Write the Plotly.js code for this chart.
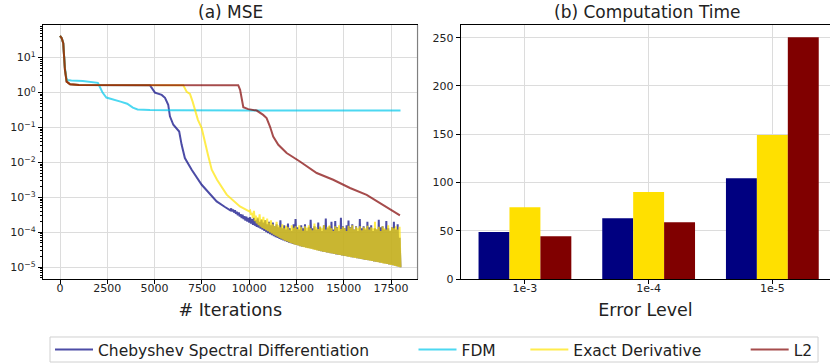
<!DOCTYPE html>
<html>
<head>
<meta charset="utf-8">
<script src="https://cdn.plot.ly/plotly-3.0.1.min.js"></script>
<style>html,body{margin:0;padding:0;background:#fff;}#chart{width:830px;height:364px;}</style>
</head>
<body>
<div id="chart"></div>
<script>
// ---------- (a) MSE data ----------
// Chebyshev: smooth part
const chebIter = [0, 90, 170, 260, 350, 530, 1000, 4750, 5020, 5200, 5375, 5550, 5720, 5810, 5990, 6300, 6430, 6600, 6960, 7490, 7750, 8280, 8700];
const chebMSE  = [42, 36, 26, 4.5, 2.06, 1.74, 1.65, 1.63, 1.0, 0.93, 0.86, 0.71, 0.45, 0.21, 0.12, 0.077, 0.032, 0.0134, 0.0062, 0.0023, 0.0016, 7.7e-4, 5.4e-4];
// Chebyshev: oscillating part, troughs and peaks
const chebLowIter = [9000, 9100, 9200, 9300, 9400, 9500, 9600, 9700, 9800, 9900, 10000, 10100, 10200, 10300, 10400, 10500, 10600, 10700, 10800, 10900,
  11000, 11100, 11200, 11300, 11400, 11500, 11600, 11700, 11800, 11900, 12000, 12100, 12200, 12300, 12400, 12500, 12600, 12700, 12800, 12900,
  13000, 13100, 13200, 13300, 13400, 13500, 13600, 13700, 13800, 13900, 14000, 14100, 14200, 14300, 14400, 14500, 14600, 14700, 14800, 14900,
  15000, 15100, 15200, 15300, 15400, 15500, 15600, 15700, 15800, 15900, 16000, 16100, 16200, 16300, 16400, 16500, 16600, 16700, 16800, 16900,
  17000, 17100, 17200, 17300, 17400, 17500, 17600, 17700, 17800, 17900, 18000];
const chebLow = [4.3e-4, 4.0e-4, 3.7e-4, 3.4e-4, 3.1e-4, 2.85e-4, 2.6e-4, 2.4e-4, 2.2e-4, 2.05e-4, 1.9e-4, 1.78e-4, 1.65e-4, 1.55e-4, 1.45e-4, 1.36e-4, 1.28e-4, 1.19e-4, 1.1e-4, 1.02e-4,
  9.5e-5, 8.9e-5, 8.4e-5, 7.8e-5, 7.3e-5, 6.9e-5, 6.5e-5, 6.2e-5, 5.9e-5, 5.6e-5, 5.3e-5, 5.1e-5, 4.9e-5, 4.7e-5, 4.5e-5, 4.35e-5, 4.2e-5, 4.05e-5, 3.9e-5, 3.8e-5,
  3.7e-5, 3.6e-5, 3.5e-5, 3.4e-5, 3.3e-5, 3.2e-5, 3.1e-5, 3.0e-5, 2.9e-5, 2.82e-5, 2.75e-5, 2.68e-5, 2.6e-5, 2.55e-5, 2.5e-5, 2.42e-5, 2.35e-5, 2.3e-5, 2.25e-5, 2.2e-5,
  2.15e-5, 2.1e-5, 2.05e-5, 2.0e-5, 1.95e-5, 1.91e-5, 1.87e-5, 1.82e-5, 1.78e-5, 1.74e-5, 1.7e-5, 1.66e-5, 1.63e-5, 1.6e-5, 1.56e-5, 1.52e-5, 1.48e-5, 1.45e-5, 1.42e-5, 1.38e-5,
  1.35e-5, 1.31e-5, 1.28e-5, 1.25e-5, 1.21e-5, 1.18e-5, 1.15e-5, 1.11e-5, 1.08e-5, 1.04e-5, 1.0e-5];
const chebHighIter = [9050, 9150, 9250, 9350, 9450, 9550, 9650, 9750, 9850, 9950, 10050, 10150, 10250, 10350, 10450, 10550, 10650, 10750, 10850, 10950,
  11050, 11150, 11250, 11350, 11450, 11550, 11650, 11750, 11850, 11950, 12050, 12150, 12250, 12350, 12450, 12550, 12650, 12750, 12850, 12950,
  13050, 13150, 13250, 13350, 13450, 13550, 13650, 13750, 13850, 13950, 14050, 14150, 14250, 14350, 14450, 14550, 14650, 14750, 14850, 14950,
  15050, 15150, 15250, 15350, 15450, 15550, 15650, 15750, 15850, 15950, 16050, 16150, 16250, 16350, 16450, 16550, 16650, 16750, 16850, 16950,
  17050, 17150, 17250, 17350, 17450, 17550, 17650, 17750, 17850, 17950];
const chebHigh = [4.8e-4, 4.5e-4, 4.3e-4, 3.9e-4, 3.7e-4, 3.3e-4, 3.2e-4, 2.9e-4, 2.8e-4, 2.6e-4, 2.7e-4, 2.4e-4, 2.6e-4, 2.2e-4, 2.5e-4, 2.0e-4, 2.3e-4, 1.9e-4, 2.2e-4, 1.7e-4,
  2.0e-4, 1.6e-4, 1.9e-4, 1.5e-4, 1.7e-4, 1.4e-4, 2.2e-4, 1.3e-4, 1.6e-4, 1.2e-4, 1.8e-4, 1.3e-4, 1.1e-4, 1.7e-4, 2.4e-4, 1.4e-4, 1.2e-4, 1.6e-4, 1.3e-4, 1.7e-4,
  1.1e-4, 1.4e-4, 2.3e-4, 1.3e-4, 1.5e-4, 1.2e-4, 1.9e-4, 1.4e-4, 1.1e-4, 1.6e-4, 2.5e-4, 1.3e-4, 1.5e-4, 2.0e-4, 1.2e-4, 2.1e-4, 1.4e-4, 1.1e-4, 2.6e-4, 1.5e-4,
  1.3e-4, 1.6e-4, 2.2e-4, 1.4e-4, 1.7e-4, 1.2e-4, 1.5e-4, 1.1e-4, 2.4e-4, 1.3e-4, 1.5e-4, 1.2e-4, 2.0e-4, 1.4e-4, 1.6e-4, 1.1e-4, 1.3e-4, 1.2e-4, 2.3e-4, 1.4e-4,
  1.5e-4, 1.2e-4, 2.1e-4, 1.3e-4, 1.1e-4, 1.4e-4, 2.0e-4, 1.2e-4, 1.7e-4, 7.0e-5];

// FDM
const fdmIter = [0, 90, 170, 260, 354, 600, 1200, 1900, 2000, 2120, 2250, 2450, 2800, 3200, 3550, 3850, 4100, 4750, 6000, 10000, 18000];
const fdmMSE  = [42, 36, 26, 5.0, 2.3, 2.22, 2.15, 2.0, 1.9, 1.4, 1.0, 0.72, 0.62, 0.55, 0.48, 0.37, 0.33, 0.315, 0.31, 0.306, 0.305];

// Exact derivative: smooth part
const exactIter = [0, 90, 170, 260, 350, 530, 1000, 6516, 6700, 6870, 7010, 7135, 7290, 7490, 7660, 7820, 8020, 8300, 8810, 9510, 10000];
const exactMSE  = [42, 36, 26, 4.5, 2.06, 1.74, 1.65, 1.63, 1.05, 0.92, 0.55, 0.32, 0.166, 0.096, 0.036, 0.0166, 0.0062, 0.0032, 0.0012, 5.5e-4, 4.0e-4];
// Exact derivative: oscillating part
const exactLowIter = [10100, 10200, 10300, 10400, 10500, 10600, 10700, 10800, 10900, 11000, 11100, 11200, 11300, 11400, 11500, 11600, 11700, 11800, 11900, 12000,
  12100, 12200, 12300, 12400, 12500, 12600, 12700, 12800, 12900, 13000, 13100, 13200, 13300, 13400, 13500, 13600, 13700, 13800, 13900, 14000,
  14100, 14200, 14300, 14400, 14500, 14600, 14700, 14800, 14900, 15000, 15100, 15200, 15300, 15400, 15500, 15600, 15700, 15800, 15900, 16000,
  16100, 16200, 16300, 16400, 16500, 16600, 16700, 16800, 16900, 17000, 17100, 17200, 17300, 17400, 17500, 17600, 17700, 17800, 17900, 18000];
const exactLow = [3.2e-4, 2.6e-4, 2.1e-4, 1.8e-4, 1.6e-4, 1.45e-4, 1.35e-4, 1.25e-4, 1.16e-4, 1.08e-4, 1.0e-4, 9.3e-5, 8.6e-5, 8.0e-5, 7.5e-5, 7.0e-5, 6.6e-5, 6.2e-5, 5.8e-5, 5.5e-5,
  5.2e-5, 5.0e-5, 4.75e-5, 4.55e-5, 4.35e-5, 4.2e-5, 4.05e-5, 3.9e-5, 3.78e-5, 3.65e-5, 3.55e-5, 3.45e-5, 3.35e-5, 3.25e-5, 3.15e-5, 3.05e-5, 2.97e-5, 2.9e-5, 2.82e-5, 2.75e-5,
  2.67e-5, 2.6e-5, 2.54e-5, 2.48e-5, 2.42e-5, 2.36e-5, 2.3e-5, 2.25e-5, 2.19e-5, 2.14e-5, 2.09e-5, 2.04e-5, 1.99e-5, 1.95e-5, 1.9e-5, 1.86e-5, 1.82e-5, 1.78e-5, 1.74e-5, 1.7e-5,
  1.66e-5, 1.62e-5, 1.59e-5, 1.55e-5, 1.51e-5, 1.48e-5, 1.44e-5, 1.41e-5, 1.37e-5, 1.34e-5, 1.3e-5, 1.27e-5, 1.24e-5, 1.2e-5, 1.17e-5, 1.14e-5, 1.1e-5, 1.07e-5, 1.03e-5, 1.0e-5];
const exactHighIter = [10050, 10150, 10250, 10350, 10450, 10550, 10650, 10750, 10850, 10950, 11050, 11150, 11250, 11350, 11450, 11550, 11650, 11750, 11850, 11950,
  12050, 12150, 12250, 12350, 12450, 12550, 12650, 12750, 12850, 12950, 13050, 13150, 13250, 13350, 13450, 13550, 13650, 13750, 13850, 13950,
  14050, 14150, 14250, 14350, 14450, 14550, 14650, 14750, 14850, 14950, 15050, 15150, 15250, 15350, 15450, 15550, 15650, 15750, 15850, 15950,
  16050, 16150, 16250, 16350, 16450, 16550, 16650, 16750, 16850, 16950, 17050, 17150, 17250, 17350, 17450, 17550, 17650, 17750, 17850, 17950];
const exactHigh = [4.2e-4, 3.6e-4, 4.1e-4, 3.0e-4, 2.7e-4, 3.3e-4, 2.4e-4, 2.8e-4, 2.2e-4, 2.5e-4, 1.9e-4, 2.2e-4, 1.7e-4, 1.5e-4, 2.0e-4, 1.6e-4, 1.4e-4, 1.7e-4, 1.3e-4, 1.55e-4,
  1.4e-4, 1.2e-4, 1.6e-4, 1.35e-4, 1.5e-4, 1.25e-4, 1.6e-4, 1.4e-4, 1.1e-4, 1.5e-4, 1.35e-4, 1.6e-4, 1.3e-4, 1.15e-4, 1.8e-4, 1.4e-4, 1.25e-4, 1.5e-4, 1.3e-4, 1.6e-4,
  1.2e-4, 1.45e-4, 1.6e-4, 1.3e-4, 1.1e-4, 1.5e-4, 1.35e-4, 1.6e-4, 1.25e-4, 1.45e-4, 1.3e-4, 1.1e-4, 1.55e-4, 1.35e-4, 1.6e-4, 1.2e-4, 1.45e-4, 1.3e-4, 1.5e-4, 1.15e-4,
  1.4e-4, 1.3e-4, 1.55e-4, 1.2e-4, 1.4e-4, 1.3e-4, 2.0e-4, 1.25e-4, 1.45e-4, 1.1e-4, 1.5e-4, 1.3e-4, 1.2e-4, 1.6e-4, 1.15e-4, 1.4e-4, 1.3e-4, 1.5e-4, 1.2e-4, 1.45e-4];

// L2
const l2Iter = [0, 90, 170, 260, 350, 530, 1000, 9420, 9520, 9600, 9690, 9950, 10400, 10740, 10920, 11100, 11270, 11540, 11980, 12680, 13570, 14440, 15330, 16210, 17090, 17970];
const l2MSE  = [42, 36, 26, 4.5, 2.06, 1.74, 1.65, 1.63, 1.2, 0.62, 0.38, 0.336, 0.306, 0.23, 0.186, 0.107, 0.055, 0.032, 0.0186, 0.0107, 0.005, 0.0032, 0.00186, 0.00119, 6.2e-4, 3.06e-4];

const seriesNames = ['Chebyshev Spectral Differentiation', 'FDM', 'Exact Derivative', 'L2'];

// ---------- (b) Computation time data ----------
const errorLevels = ['1e-3', '1e-4', '1e-5'];
const timeCheb  = [48.7, 62.9, 104.3];
const timeExact = [74.3, 90.1, 149.2];
const timeL2    = [44.2, 58.7, 250.4];

// ---------- tick labels ----------
const iterTickVals = [0, 2500, 5000, 7500, 10000, 12500, 15000, 17500];
const iterTickText = ['0', '2500', '5000', '7500', '10000', '12500', '15000', '17500'];
const mseTickVals = [1e-5, 1e-4, 1e-3, 1e-2, 1e-1, 1, 10];
const mseTickText = ['10<sup>\u22125</sup>', '10<sup>\u22124</sup>', '10<sup>\u22123</sup>', '10<sup>\u22122</sup>', '10<sup>\u22121</sup>', '10<sup>0</sup>', '10<sup>1</sup>'];
const timeTickVals = [0, 50, 100, 150, 200, 250];

// minor log tick positions (2..9 per decade)
const minorVals = [];
for (let e = -6; e <= 1; e++) for (let d = 2; d <= 9; d++) minorVals.push(d * Math.pow(10, e));

// merge smooth + oscillating parts into one ordered series
function mergeSeries(parts) {
  const pts = [];
  parts.forEach(p => p[0].forEach((x, i) => pts.push([x, p[1][i]])));
  pts.sort((a, b) => a[0] - b[0]);
  return {x: pts.map(p => p[0]), y: pts.map(p => p[1])};
}
const cheb = mergeSeries([[chebIter, chebMSE], [chebLowIter, chebLow], [chebHighIter, chebHigh]]);
const exact = mergeSeries([[exactIter, exactMSE], [exactLowIter, exactLow], [exactHighIter, exactHigh]]);

const FONT = 'DejaVu Sans, Verdana, sans-serif';
const cCheb = 'rgba(0,0,128,0.7)', cFdm = 'rgba(0,200,235,0.7)', cExact = 'rgba(255,228,0,0.7)', cL2 = 'rgba(128,0,0,0.7)';
const LW = 2;
const NB = n => '\u00a0'.repeat(n);

const traces = [
  {x: cheb.x, y: cheb.y, name: seriesNames[0] + NB(8), type: 'scatter', mode: 'lines', line: {color: cCheb, width: LW}, xaxis: 'x', yaxis: 'y'},
  {x: fdmIter, y: fdmMSE, name: seriesNames[1] + NB(5), type: 'scatter', mode: 'lines', line: {color: cFdm, width: LW}, xaxis: 'x', yaxis: 'y'},
  {x: exact.x, y: exact.y, name: seriesNames[2] + NB(8), type: 'scatter', mode: 'lines', line: {color: cExact, width: LW}, xaxis: 'x', yaxis: 'y'},
  {x: l2Iter, y: l2MSE, name: seriesNames[3], type: 'scatter', mode: 'lines', line: {color: cL2, width: LW}, xaxis: 'x', yaxis: 'y'},
  {x: errorLevels, y: timeCheb, type: 'bar', marker: {color: '#000080'}, showlegend: false, xaxis: 'x2', yaxis: 'y2', name: seriesNames[0]},
  {x: errorLevels, y: timeExact, type: 'bar', marker: {color: '#FFE000'}, showlegend: false, xaxis: 'x2', yaxis: 'y2', name: seriesNames[2]},
  {x: errorLevels, y: timeL2, type: 'bar', marker: {color: '#800000'}, showlegend: false, xaxis: 'x2', yaxis: 'y2', name: seriesNames[3]}
];

const axBase = {
  showline: true, linecolor: '#000', linewidth: 1.2, ticks: 'outside', ticklen: 4, tickcolor: '#000', tickwidth: 1,
  showgrid: true, gridcolor: '#dcdcdc', gridwidth: 1, zeroline: false,
  tickfont: {family: FONT, size: 11, color: '#222'}, automargin: false
};

const layout = {
  width: 830, height: 364,
  margin: {l: 43, r: 0, t: 25, b: 85, autoexpand: false},
  paper_bgcolor: '#fff', plot_bgcolor: '#fff',
  font: {family: FONT, color: '#222'},
  barmode: 'group', bargap: 0.25, bargroupgap: 0,
  xaxis: Object.assign({}, axBase, {domain: [0, 0.4759], range: [-900, 18900], tickmode: 'array', tickvals: iterTickVals, ticktext: iterTickText, mirror: true,
    ticklabelstandoff: -5,
    title: {text: '# Iterations', font: {family: FONT, size: 17.5, color: '#222'}, standoff: 9}}),
  yaxis: Object.assign({}, axBase, {domain: [0, 1], type: 'log', range: [-5.334, 1.934], tickmode: 'array', tickvals: mseTickVals, ticktext: mseTickText,
    minor: {tickmode: 'array', tickvals: minorVals, ticks: 'outside', ticklen: 2, tickcolor: '#000', showgrid: false}}),
  xaxis2: Object.assign({}, axBase, {domain: [0.5311, 1], range: [-0.517, 2.466], type: 'category', mirror: true, anchor: 'y2',
    ticklabelstandoff: -5,
    title: {text: 'Error Level', font: {family: FONT, size: 17.5, color: '#222'}, standoff: 9}}),
  yaxis2: Object.assign({}, axBase, {domain: [0, 1], range: [0, 263.2], tickmode: 'array', tickvals: timeTickVals, anchor: 'x2'}),
  showlegend: true,
  legend: {orientation: 'h', x: 0.0089, xanchor: 'left', y: -0.2126, yanchor: 'top', bgcolor: 'rgba(0,0,0,0)', borderwidth: 0, itemwidth: 38,
    font: {family: FONT, size: 15.5, color: '#222'}},
  annotations: [
    {text: '(a) MSE', xref: 'paper', yref: 'paper', x: 0.238, y: 1.051, xanchor: 'center', yanchor: 'middle', showarrow: false, font: {family: FONT, size: 17, color: '#222'}},
    {text: '(b) Computation Time', xref: 'paper', yref: 'paper', x: 0.7687, y: 1.051, xanchor: 'center', yanchor: 'middle', showarrow: false, font: {family: FONT, size: 17, color: '#222'}}
  ],
  shapes: [
    {type: 'line', xref: 'x domain', yref: 'y domain', x0: 1, x1: 1, y0: 0, y1: 1, line: {color: '#808080', width: 1.2}},
    {type: 'rect', xref: 'paper', yref: 'paper', x0: 0.0089, x1: 0.9848, y0: -0.2283, y1: -0.3268, line: {color: '#d0d0d0', width: 1}, fillcolor: 'rgba(0,0,0,0)'}
  ]
};

Plotly.newPlot('chart', traces, layout, {displayModeBar: false, staticPlot: true});
</script>
</body>
</html>
